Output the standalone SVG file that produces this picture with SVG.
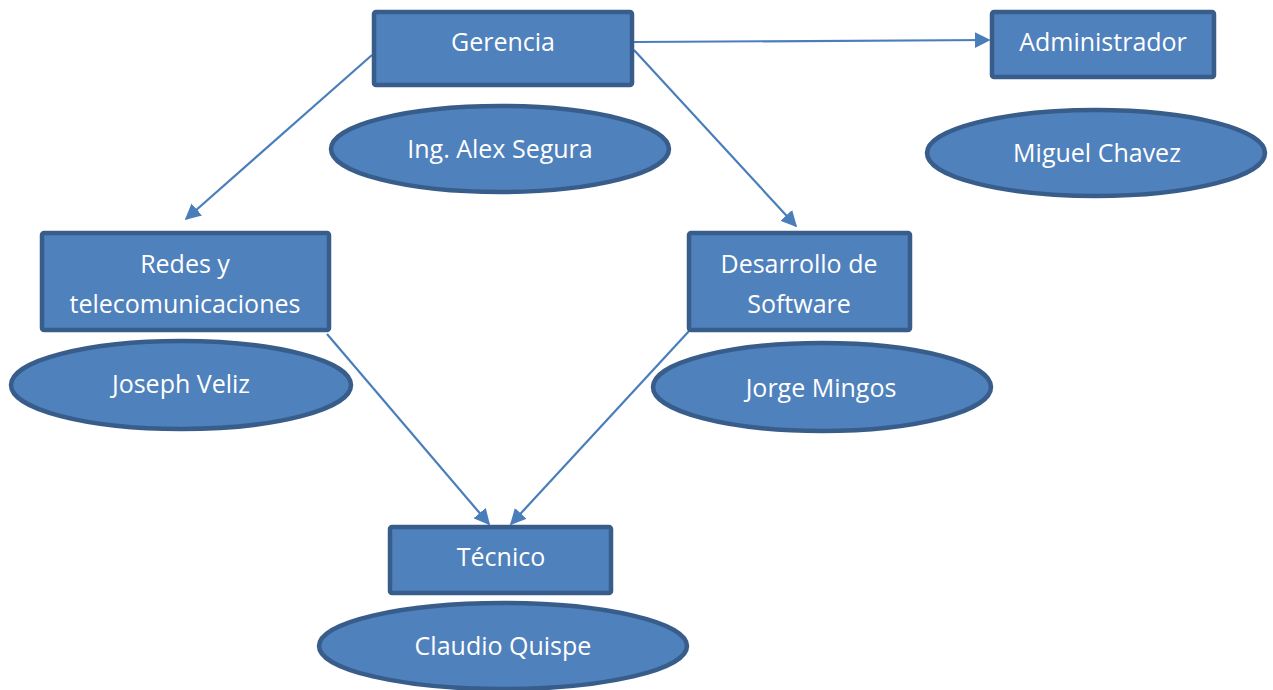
<svg xmlns="http://www.w3.org/2000/svg" width="1273" height="690" viewBox="0 0 1273 690">
<defs>
<style>
.n{fill:#4F81BD;stroke:#385D8A;stroke-width:4.5}
.t{fill:#fff;font-family:"Open Sans","Noto Sans",sans-serif;font-size:25px;text-anchor:middle;dominant-baseline:central}
.c{stroke:#4A7EBB;stroke-width:2.2;fill:none;marker-end:url(#a)}
</style>
<marker id="a" viewBox="0 0 10 10" refX="9" refY="5" markerWidth="16" markerHeight="16" markerUnits="userSpaceOnUse" orient="auto"><path d="M0,0 L10,5 L0,10 z" fill="#4A7EBB"/></marker>
</defs>
<rect width="1273" height="690" fill="#fff"/>
<g id="connectors">
<line class="c" x1="634" y1="42" x2="989" y2="40"/>
<line class="c" x1="372" y1="55" x2="186" y2="219"/>
<line class="c" x1="634" y1="50" x2="796" y2="226"/>
<line class="c" x1="327" y1="334" x2="489" y2="524"/>
<line class="c" x1="690" y1="330" x2="511" y2="524"/>
</g>
<g id="gerencia"><rect class="n" x="374" y="12" width="258" height="73" rx="2"/><text class="t" x="503" y="41">Gerencia</text></g>
<g id="administrador"><rect class="n" x="992" y="12" width="222" height="65" rx="2"/><text class="t" x="1103" y="41">Administrador</text></g>
<g id="alex"><ellipse class="n" cx="500" cy="149" rx="169" ry="43"/><text class="t" x="500" y="148">Ing. Alex Segura</text></g>
<g id="miguel"><ellipse class="n" cx="1096" cy="153" rx="169" ry="43"/><text class="t" x="1097" y="152">Miguel Chavez</text></g>
<g id="redes"><rect class="n" x="42" y="233" width="287" height="97" rx="2"/><text class="t" x="185" y="263">Redes y</text><text class="t" x="185" y="303">telecomunicaciones</text></g>
<g id="desarrollo"><rect class="n" x="689" y="233" width="221" height="97" rx="2"/><text class="t" x="799" y="263">Desarrollo de</text><text class="t" x="799" y="303">Software</text></g>
<g id="joseph"><ellipse class="n" cx="181" cy="385" rx="170" ry="44"/><text class="t" x="181" y="383">Joseph Veliz</text></g>
<g id="jorge"><ellipse class="n" cx="822" cy="387" rx="169" ry="44"/><text class="t" x="821" y="387">Jorge Mingos</text></g>
<g id="tecnico"><rect class="n" x="390" y="527" width="221" height="66" rx="2"/><text class="t" x="501" y="556">Técnico</text></g>
<g id="claudio"><ellipse class="n" cx="503" cy="646" rx="184" ry="43"/><text class="t" x="503" y="645">Claudio Quispe</text></g>
</svg>
